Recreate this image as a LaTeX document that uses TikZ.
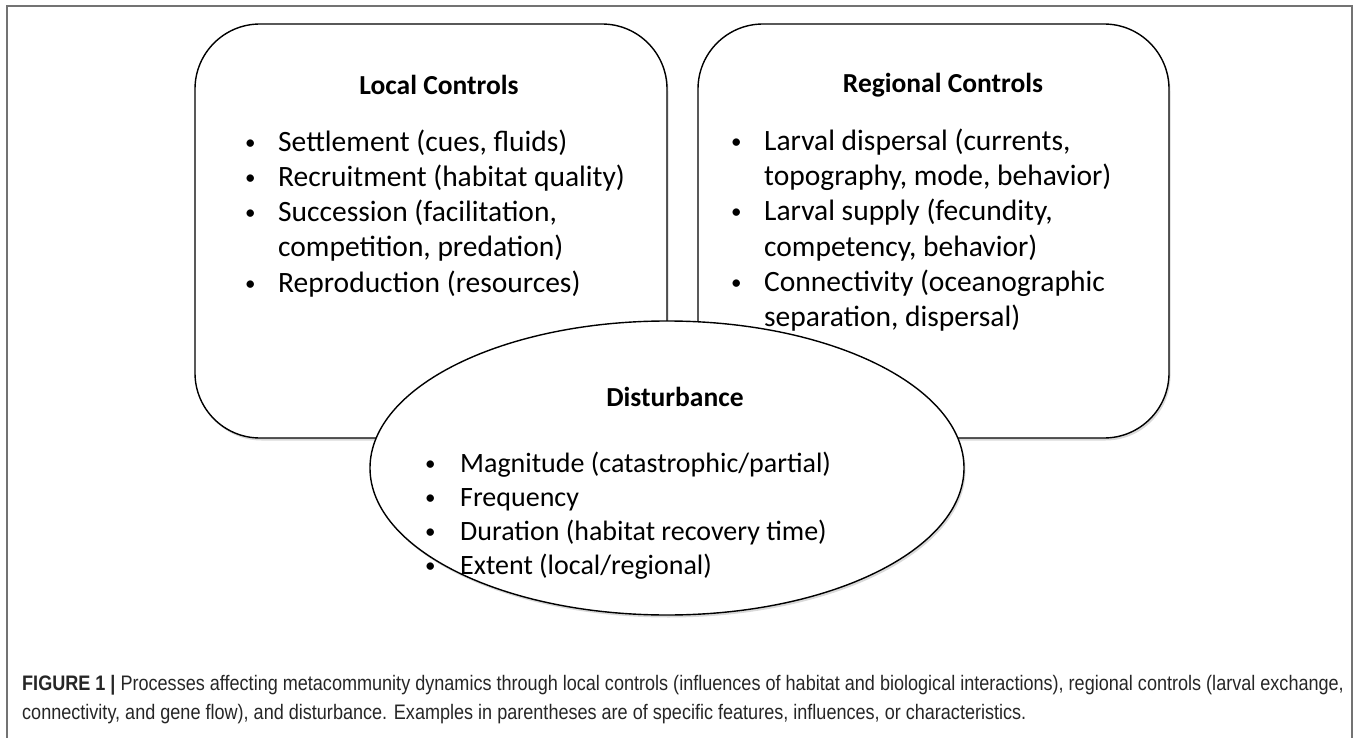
\documentclass[tikz,border=0pt]{standalone}
\usepackage{fontspec}
\setmainfont{Carlito}
\newfontfamily\capfont[FakeStretch=0.86]{Liberation Sans}
\usetikzlibrary{shapes.geometric,shadows}

\tikzset{
  ctrlbox/.style={draw=black, line width=1.4pt, fill=white, rounded corners=65pt,
    drop shadow={shadow xshift=1.5pt, shadow yshift=-2.5pt, opacity=0.25, fill=black!60}},
  distell/.style={ellipse, draw=black, line width=1.4pt, fill=white,
    drop shadow={shadow xshift=1.5pt, shadow yshift=-2.5pt, opacity=0.25, fill=black!60}},
  boxtitle/.style={inner sep=0pt, anchor=base, font=\bfseries\fontsize{27.5}{33}\selectfont},
  item/.style={inner sep=0pt, anchor=base west, font=\fontsize{29.5}{35}\selectfont},
  ditem/.style={item, font=\fontsize{28}{34}\selectfont},
  captext/.style={inner sep=0pt, anchor=base west, text=black!85, font=\capfont\fontsize{21}{29}\selectfont}
}
\newcommand{\bul}{\makebox[33pt][l]{\raisebox{2pt}{\fontsize{21}{21}\selectfont\textbullet}}}
\newcommand{\dbul}{\makebox[35pt][l]{\raisebox{2pt}{\fontsize{21}{21}\selectfont\textbullet}}}

\begin{document}
\begin{tikzpicture}[x=1pt,y=-1pt]
\useasboundingbox (0,0) rectangle (1360,738);
\draw [black!55, line width=1.5pt] (7,760) -- (7,6) -- (1352,6) -- (1352,760);

% the three groups of controls
\node (local) [ctrlbox, minimum width=472pt, minimum height=414pt] at (431,231) {};
\node (regional) [ctrlbox, minimum width=471pt, minimum height=414pt] at (933.5,231) {};
\node (dist) [distell, minimum width=594pt, minimum height=294pt] at (667,468) {};

% local controls
\node (lct) [boxtitle] at (439,95) {Local Controls};
\node (lc1) [item] at (245,152) {\bul Settlement (cues, fluids)};
\node (lc2) [item] at (245,187) {\bul Recruitment (habitat quality)};
\node (lc3) [item] at (245,222) {\bul Succession (facilitation,};
\node (lc3b) [item] at (278,257) {competition, predation)};
\node (lc4) [item] at (245,292) {\bul Reproduction (resources)};

% regional controls
\node (rct) [boxtitle] at (943,93) {Regional Controls};
\node (rc1) [item] at (731,151) {\bul Larval dispersal (currents,};
\node (rc1b) [item] at (764,186) {topography, mode, behavior)};
\node (rc2) [item] at (731,221) {\bul Larval supply (fecundity,};
\node (rc2b) [item] at (764,256) {competency, behavior)};
\node (rc3) [item] at (731,291) {\bul Connectivity (oceanographic};
\node (rc3b) [item] at (764,326) {separation, dispersal)};

% disturbance
\node (dt) [boxtitle] at (675,406) {Disturbance};
\node (d1) [ditem] at (425,472) {\dbul Magnitude (catastrophic/partial)};
\node (d2) [ditem] at (425,506) {\dbul Frequency};
\node (d3) [ditem] at (425,540) {\dbul Duration (habitat recovery time)};
\node (d4) [ditem] at (425,574) {\dbul Extent (local/regional)};

% caption
\node (cap1) [captext] at (22,690) {\textbf{FIGURE 1 |} Processes affecting metacommunity dynamics through local controls (influences of habitat and biological interactions), regional controls (larval exchange,};
\node (cap2) [captext] at (22,719) {connectivity, and gene flow), and disturbance. Examples in parentheses are of specific features, influences, or characteristics.};
\end{tikzpicture}
\end{document}
